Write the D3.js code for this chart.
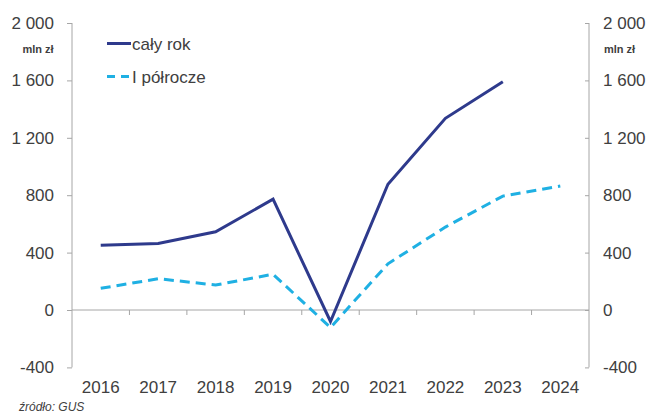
<!DOCTYPE html>
<html>
<head>
<meta charset="utf-8">
<script src="https://cdn.jsdelivr.net/npm/d3@7"></script>
<style>
  body { margin: 0; background: #fff; }
  svg { display: block; font-family: "Liberation Sans", Arial, sans-serif; }
</style>
</head>
<body>
<svg id="chart" width="649" height="414"></svg>
<script>
// Years on the horizontal axis
const years = ["2016", "2017", "2018", "2019", "2020", "2021", "2022", "2023", "2024"];
// Full-year result, mln zł (no full-year figure for 2024)
const fullYear = [452, 463, 545, 772, -80, 876, 1336, 1590, null];
// First-half result, mln zł
const firstHalf = [151, 218, 174, 249, -122, 322, 578, 794, 864];
// Value-axis ticks (both sides)
const yTicks = [-400, 0, 400, 800, 1200, 1600, 2000];
const seriesNames = ["cały rok", "I półrocze"];

const svg = d3.select("#chart");
const plotLeft = 72, plotRight = 589, plotTop = 23, plotBottom = 367.4;

const x = d3.scaleBand().domain(years).range([plotLeft, plotRight]).paddingInner(0).paddingOuter(0);
const y = d3.scaleLinear().domain([-400, 2000]).range([plotBottom, plotTop]);

const axisColor = "#a6a6a6";
const textColor = "#404040";
const fmt = v => d3.format(",")(v).replace(/,/g, "\u00a0").replace("\u2212", "-");

// Left axis
const gl = svg.append("g").attr("transform", `translate(${plotLeft},0)`)
  .call(d3.axisLeft(y).tickValues(yTicks).tickSize(5).tickPadding(13).tickFormat(fmt));
// Right axis
const gr = svg.append("g").attr("transform", `translate(${plotRight},0)`)
  .call(d3.axisRight(y).tickValues(yTicks).tickSize(-4).tickPadding(14).tickFormat(fmt));
[gl, gr].forEach(g => {
  g.select(".domain").attr("stroke", axisColor).attr("d", `M0,${y(2000)}V${y(-400)}`);
  g.selectAll(".tick line").attr("stroke", axisColor);
  g.selectAll(".tick text").attr("fill", textColor).attr("font-size", 17)
    .attr("font-family", "Liberation Sans, Arial, sans-serif");
});

// Category axis drawn along zero
const gx = svg.append("g").attr("transform", `translate(0,${y(0)})`);
gx.append("line").attr("x1", plotLeft).attr("x2", plotRight).attr("stroke", axisColor);
gx.selectAll("line.tk").data(years.slice(1)).join("line").attr("class", "tk")
  .attr("x1", d => x(d)).attr("x2", d => x(d)).attr("y1", 0).attr("y2", 5)
  .attr("stroke", axisColor);

// Category labels below the plot
svg.append("g").selectAll("text").data(years).join("text")
  .attr("x", d => x(d) + x.bandwidth() / 2).attr("y", 393)
  .attr("text-anchor", "middle").attr("font-size", 17).attr("fill", textColor)
  .text(d => d);

// Unit labels
[38, 619.5].forEach(px => {
  svg.append("text").attr("x", px).attr("y", 52.5).attr("text-anchor", "middle")
    .attr("font-size", 11).attr("font-weight", "bold").attr("fill", textColor).text("mln zł");
});

// Series lines
const line = d3.line()
  .defined(d => d[1] !== null)
  .x(d => x(d[0]) + x.bandwidth() / 2)
  .y(d => y(d[1]));

const solidColor = "#2e3a8c", dashColor = "#1fb0e3";

svg.append("path").datum(years.map((yr, i) => [yr, firstHalf[i]]))
  .attr("d", line).attr("fill", "none").attr("stroke", dashColor)
  .attr("stroke-width", 3).attr("stroke-dasharray", "10,6");

svg.append("path").datum(years.map((yr, i) => [yr, fullYear[i]]))
  .attr("d", line).attr("fill", "none").attr("stroke", solidColor)
  .attr("stroke-width", 3).attr("stroke-linejoin", "miter");

// Legend
const legend = svg.append("g");
legend.append("line").attr("x1", 107).attr("x2", 131).attr("y1", 43.5).attr("y2", 43.5)
  .attr("stroke", solidColor).attr("stroke-width", 3);
legend.append("text").attr("x", 132).attr("y", 49.5).attr("font-size", 17).attr("fill", textColor)
  .text(seriesNames[0]);
legend.append("line").attr("x1", 107).attr("x2", 131).attr("y1", 76.5).attr("y2", 76.5)
  .attr("stroke", dashColor).attr("stroke-width", 3).attr("stroke-dasharray", "8,6");
legend.append("text").attr("x", 132).attr("y", 82.5).attr("font-size", 17).attr("fill", textColor)
  .text(seriesNames[1]);

// Source note
svg.append("text").attr("x", 19).attr("y", 411).attr("font-size", 12)
  .attr("font-style", "italic").attr("fill", textColor).text("źródło: GUS");
</script>
</body>
</html>
